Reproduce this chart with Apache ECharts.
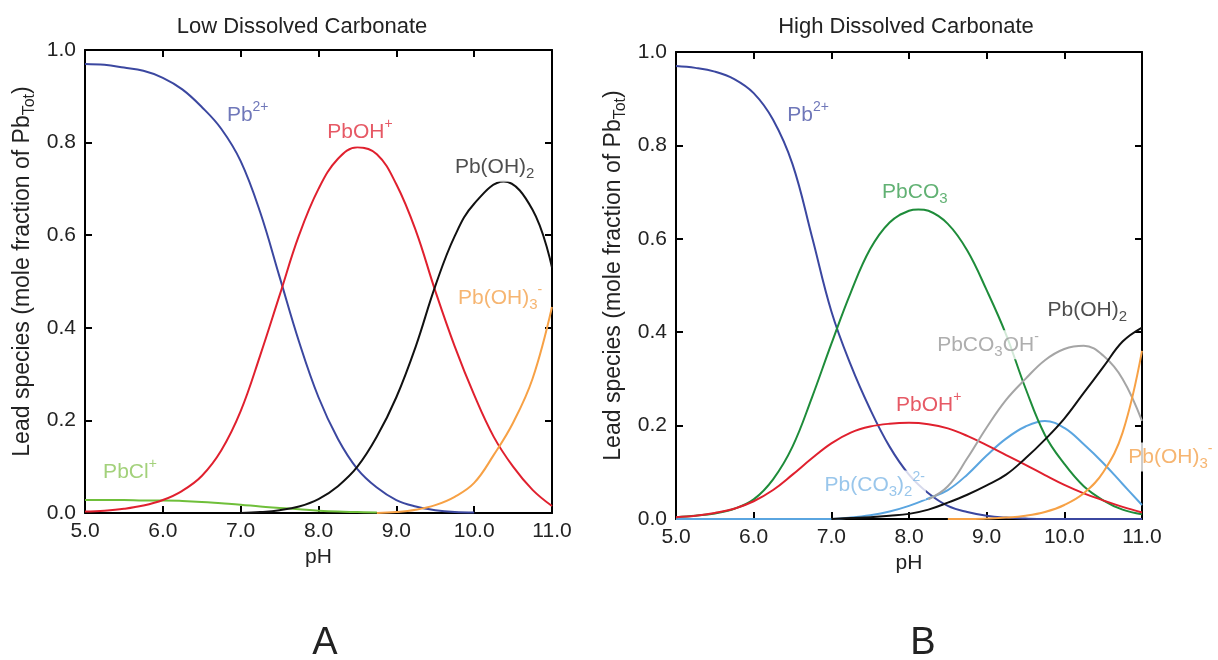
<!DOCTYPE html>
<html>
<head>
<meta charset="utf-8">
<script src="https://cdn.jsdelivr.net/npm/echarts@6/dist/echarts.min.js"></script>
<style>
  html, body { margin: 0; padding: 0; background: #fff; }
  #chart { width: 1218px; height: 660px; }
</style>
</head>
<body>
<div id="chart"></div>
<script>
// ---------- data ----------
const pH = [5.0, 5.25, 5.5, 5.75, 6.0, 6.25, 6.5, 6.75, 7.0, 7.25, 7.5, 7.75, 8.0,
            8.25, 8.5, 8.75, 9.0, 9.25, 9.5, 9.75, 10.0, 10.25, 10.5, 10.75, 11.0];
const xTicks = [5, 6, 7, 8, 9, 10, 11];
const yTicks = [0, 0.2, 0.4, 0.6, 0.8, 1.0];

// Panel A: Low dissolved carbonate
const lowPb2 =   [0.970,0.968,0.962,0.955,0.940,0.915,0.877,0.830,0.760,0.650,0.510,0.370,0.250,0.160,0.095,0.055,0.028,0.014,0.006,0.002,0.001,null,null,null,null];
const lowPbOH =  [0.003,0.005,0.009,0.016,0.028,0.048,0.080,0.135,0.220,0.340,0.470,0.600,0.700,0.765,0.790,0.775,0.710,0.610,0.480,0.360,0.255,0.165,0.100,0.050,0.015];
// Pb(OH)2 (low carbonate) is sampled on its own pH points so its peak is a sample
const lowPbOH2pH = [7.0, 7.25, 7.5, 7.75, 8.0, 8.25, 8.5, 8.75, 9.0, 9.25, 9.5, 9.75, 10.0, 10.38, 10.75, 11.0];
const lowPbOH2 =   [0.000,0.002,0.006,0.014,0.030,0.058,0.100,0.165,0.250,0.360,0.490,0.598,0.668,0.716,0.655,0.530];
const lowPbOH3 = [null,null,null,null,null,null,null,null,null,null,null,null,null,null,null,0.000,0.002,0.007,0.017,0.035,0.065,0.125,0.195,0.290,0.445];
const lowPbCl =  [0.028,0.028,0.028,0.027,0.027,0.026,0.024,0.021,0.018,0.014,0.011,0.008,0.005,0.003,0.002,0.001,null,null,null,null,null,null,null,null,null];

// Panel B: High dissolved carbonate
const highPb2 =    [0.970,0.966,0.958,0.942,0.912,0.855,0.760,0.605,0.445,0.330,0.235,0.155,0.095,0.055,0.028,0.015,0.007,0.003,0.001,0,0,0,0,0,0];
const highPbCO3 =  [0.004,0.007,0.012,0.022,0.042,0.085,0.155,0.260,0.375,0.485,0.578,0.635,0.660,0.660,0.632,0.575,0.490,0.395,0.280,0.180,0.118,0.070,0.040,0.020,0.010];
const highPbCO3Peak = [8.12, 0.663];
const highPbOH =   [0.004,0.007,0.013,0.022,0.038,0.062,0.095,0.130,0.162,0.185,0.198,0.204,0.206,0.203,0.194,0.178,0.158,0.137,0.116,0.094,0.073,0.055,0.040,0.026,0.014];
const highPbCO32 = [0,0,0,0,0,0,0,0,0,0.003,0.008,0.016,0.028,0.044,0.062,0.095,0.136,0.172,0.198,0.210,0.195,0.160,0.120,0.075,0.030];
const highPbCO3OH =[null,null,null,null,null,null,null,null,null,null,null,null,null,0.042,0.070,0.130,0.196,0.255,0.300,0.340,0.364,0.371,0.350,0.300,0.210];
const highPbOH2 =  [null,null,null,null,null,null,null,null,0.000,0.002,0.004,0.007,0.011,0.020,0.035,0.052,0.072,0.095,0.130,0.170,0.215,0.270,0.325,0.380,0.410];
const highPbOH3 =  [null,null,null,null,null,null,null,null,null,null,null,null,null,null,0.000,0.000,0.001,0.003,0.007,0.015,0.030,0.055,0.100,0.185,0.360];

// ---------- annotations (text + anchor in data coords) ----------
const annotLow = [
  {text: 'Pb{sup|2+}',          at: [6.81, 0.860], color: '#4b55a8'},
  {text: 'PbOH{sup|+}',         at: [8.10, 0.823], color: '#e0303f'},
  {text: 'Pb(OH){sub|2}',       at: [9.74, 0.747], color: '#222222'},
  {text: 'Pb(OH){sub|3}{sup|-}',at: [9.78, 0.465], color: '#f4a24e'},
  {text: 'PbCl{sup|+}',         at: [5.22, 0.089], color: '#8cc65a'}
];
const annotHigh = [
  {text: 'Pb{sup|2+}',                      at: [6.42, 0.865], color: '#4b55a8'},
  {text: 'PbCO{sub|3}',                     at: [7.64, 0.700], color: '#3a9d50'},
  {text: 'Pb(OH){sub|2}',                   at: [9.77, 0.447], color: '#222222'},
  {text: 'PbCO{sub|3}OH{sup|-}',            at: [8.35, 0.373], color: '#9a9a9a'},
  {text: 'PbOH{sup|+}',                     at: [7.82, 0.244], color: '#e0303f'},
  {text: 'Pb(CO{sub|3}){sub|2}{sup|2-}',    at: [6.90, 0.073], color: '#80b8e6'},
  {text: 'Pb(OH){sub|3}{sup|-}',            at: [10.81, 0.133], color: '#f4a24e'}
];

// ---------- build chart ----------
const FONT = "'Liberation Sans', Arial, sans-serif";
const TXT = '#222';
function pairs(arr, extra, xs) {
  const xv = xs || pH;
  const d = xv.map((x, i) => [x, arr[i] == null ? null : arr[i]]);
  if (extra) { d.push(extra); d.sort((a, b) => a[0] - b[0]); }
  return d;
}

function line(name, arr, color, grid, extra, xs) {
  return {
    name, type: 'line', xAxisIndex: grid * 2, yAxisIndex: grid * 2,
    data: pairs(arr, extra, xs), showSymbol: false, symbol: 'none', smooth: 0.4,
    connectNulls: false, lineStyle: {color, width: 2}, z: 2, silent: true
  };
}
function labels(list, grid) {
  return {
    type: 'scatter', xAxisIndex: grid * 2, yAxisIndex: grid * 2, symbolSize: 0, silent: true, z: 6,
    data: list.map(a => ({
      value: a.at,
      label: {formatter: a.text, color: a.color}
    })),
    label: {
      show: true, position: [0, 0], align: 'left', verticalAlign: 'middle',
      fontSize: 21, fontFamily: FONT, lineHeight: 29,
      backgroundColor: '#fff', padding: [0, 1],
      rich: {
        sup: {fontSize: 14, lineHeight: 20, verticalAlign: 'top', fontFamily: FONT},
        sub: {fontSize: 15, lineHeight: 16, verticalAlign: 'bottom', fontFamily: FONT}
      }
    }
  };
}

const grids = [
  {left: 85, top: 50, width: 467, height: 463},
  {left: 676, top: 52, width: 466, height: 467}
];

const xAxes = [], yAxes = [];
grids.forEach((g, gi) => {
  const tick = {show: true, inside: true, length: 7, lineStyle: {color: '#000', width: 2}};
  const axLine = {show: true, onZero: false, lineStyle: {color: '#000', width: 2}};
  xAxes.push({
    type: 'value', gridIndex: gi, position: 'bottom', min: xTicks[0], max: xTicks[xTicks.length - 1], interval: 1,
    axisLine: axLine, axisTick: tick, splitLine: {show: false},
    axisLabel: {color: TXT, fontSize: 21, fontFamily: FONT, margin: 8, formatter: v => v.toFixed(1)},
    name: 'pH', nameLocation: 'middle', nameGap: 34,
    nameTextStyle: {color: TXT, fontSize: 21, fontFamily: FONT}
  });
  xAxes.push({
    type: 'value', gridIndex: gi, position: 'top', min: 5, max: 11, interval: 1,
    axisLine: axLine, axisTick: tick, splitLine: {show: false}, axisLabel: {show: false}
  });
  yAxes.push({
    type: 'value', gridIndex: gi, position: 'left', min: yTicks[0], max: yTicks[yTicks.length - 1], interval: 0.2,
    axisLine: axLine, axisTick: tick, splitLine: {show: false},
    axisLabel: {color: TXT, fontSize: 21, fontFamily: FONT, margin: 9, formatter: v => v.toFixed(1)},
    name: 'Lead species (mole fraction of Pb{sub|Tot})', nameLocation: 'middle', nameGap: 47, nameRotate: 90,
    nameTextStyle: {color: TXT, fontSize: 23, fontFamily: FONT, lineHeight: 31, padding: [0, 0, 0, 20],
      rich: {sub: {fontSize: 16, lineHeight: 17, verticalAlign: 'bottom', fontFamily: FONT, color: TXT}}}
  });
  yAxes.push({
    type: 'value', gridIndex: gi, position: 'right', min: 0, max: 1, interval: 0.2,
    axisLine: axLine, axisTick: tick, splitLine: {show: false}, axisLabel: {show: false}
  });
});

const series = [
  line('PbCl+', lowPbCl, '#6fbf3a', 0),
  line('Pb2+', lowPb2, '#3b47a0', 0),
  line('PbOH+', lowPbOH, '#e0202e', 0),
  line('Pb(OH)3-', lowPbOH3, '#f7a145', 0),
  line('Pb(OH)2', lowPbOH2, '#111111', 0, null, lowPbOH2pH),
  labels(annotLow, 0),

  line('Pb2+', highPb2, '#3b47a0', 1),
  line('Pb(CO3)2 2-', highPbCO32, '#5aa5e0', 1),
  line('PbCO3', highPbCO3, '#1e8c3a', 1, highPbCO3Peak),
  line('PbOH+', highPbOH, '#e0202e', 1),
  line('PbCO3OH-', highPbCO3OH, '#a5a5a5', 1),
  line('Pb(OH)3-', highPbOH3, '#f7a145', 1),
  line('Pb(OH)2', highPbOH2, '#111111', 1),
  labels(annotHigh, 1)
];

const chart = echarts.init(document.getElementById('chart'), null, {renderer: 'canvas'});
chart.setOption({
  animation: false,
  backgroundColor: '#fff',
  grid: grids,
  xAxis: xAxes,
  yAxis: yAxes,
  series,
  graphic: [
    {type: 'text', x: 302, y: 27, style: {text: 'Low Dissolved Carbonate', fontSize: 22, fontFamily: FONT, fill: TXT, align: 'center', verticalAlign: 'middle'}},
    {type: 'text', x: 906, y: 27, style: {text: 'High Dissolved Carbonate', fontSize: 22, fontFamily: FONT, fill: TXT, align: 'center', verticalAlign: 'middle'}},
    {type: 'text', x: 325, y: 644, style: {text: 'A', fontSize: 38, fontFamily: FONT, fill: TXT, align: 'center', verticalAlign: 'middle'}},
    {type: 'text', x: 923, y: 644, style: {text: 'B', fontSize: 38, fontFamily: FONT, fill: TXT, align: 'center', verticalAlign: 'middle'}}
  ]
});
</script>
</body>
</html>
